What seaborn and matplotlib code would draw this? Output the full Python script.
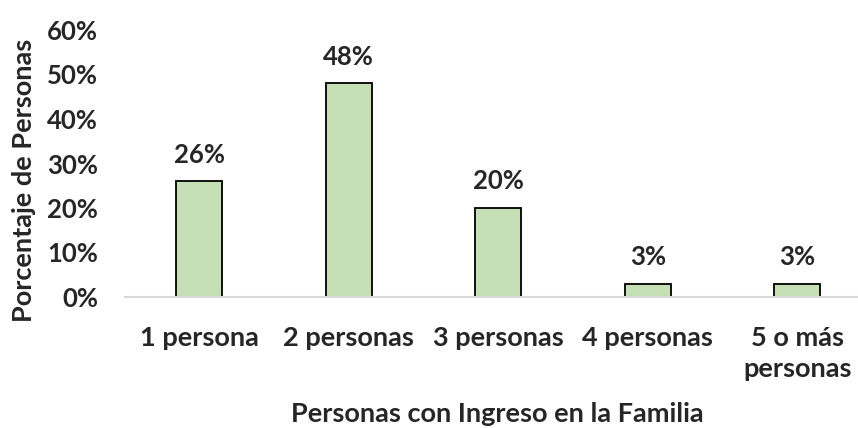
import matplotlib
matplotlib.use("Agg")
import matplotlib.pyplot as plt
import seaborn as sns
import pandas as pd

# Data
categorias = ["1 persona", "2 personas", "3 personas", "4 personas", "5 o más\npersonas"]
porcentajes = [26, 48, 20, 3, 3]
etiquetas = ["26%", "48%", "20%", "3%", "3%"]
yticks = [0, 10, 20, 30, 40, 50, 60]

df = pd.DataFrame({"categoria": categorias, "pct": porcentajes})

sns.set_style("white")
plt.rcParams["font.family"] = ["Lato", "DejaVu Sans"]
plt.rcParams["font.weight"] = "bold"

fig = plt.figure(figsize=(8.58, 4.28), dpi=100)
ax = fig.add_axes([124.5 / 858, 131 / 428, 1 - 124.5 / 858, 267 / 428])

sns.barplot(data=df, x="categoria", y="pct", color="#C5E0B4", edgecolor="black",
            linewidth=1.3, width=0.31, saturation=1, ax=ax)

ax.set_ylim(0, 60)
ax.set_xlim(-0.5, (858 - 124.5) / 149.5 - 0.5)
ax.set_yticks(yticks)
ax.set_yticklabels([f"{v}%" for v in yticks], fontsize=18.5, fontweight="bold")
ax.tick_params(axis="y", length=0, pad=19)
ax.tick_params(axis="x", length=0, pad=21, labelsize=19.5)
for lab in ax.get_xticklabels():
    lab.set_fontweight("bold")
    lab.set_multialignment("center")
    lab.set_linespacing(1.35)

for i, (v, t) in enumerate(zip(porcentajes, etiquetas)):
    ax.annotate(t, (i, v), xytext=(0, 13.5), textcoords="offset points",
                ha="center", va="baseline", fontsize=18.5, fontweight="bold")

sns.despine(ax=ax, left=True, top=True, right=True)
ax.spines["bottom"].set_color("#D9D9D9")
ax.spines["bottom"].set_linewidth(1.5)

ax.set_xlabel("Personas con Ingreso en la Familia", fontsize=19.5, fontweight="bold")
ax.set_ylabel("Porcentaje de Personas", fontsize=19.5, fontweight="bold")
ax.xaxis.set_label_coords((497 - 124.5) / (858 - 124.5), -(402 - 297) / 267)
ax.yaxis.set_label_coords(-(124.5 - 36) / (858 - 124.5), (297 - 180) / 267)

fig.savefig("out.png", dpi=100)
